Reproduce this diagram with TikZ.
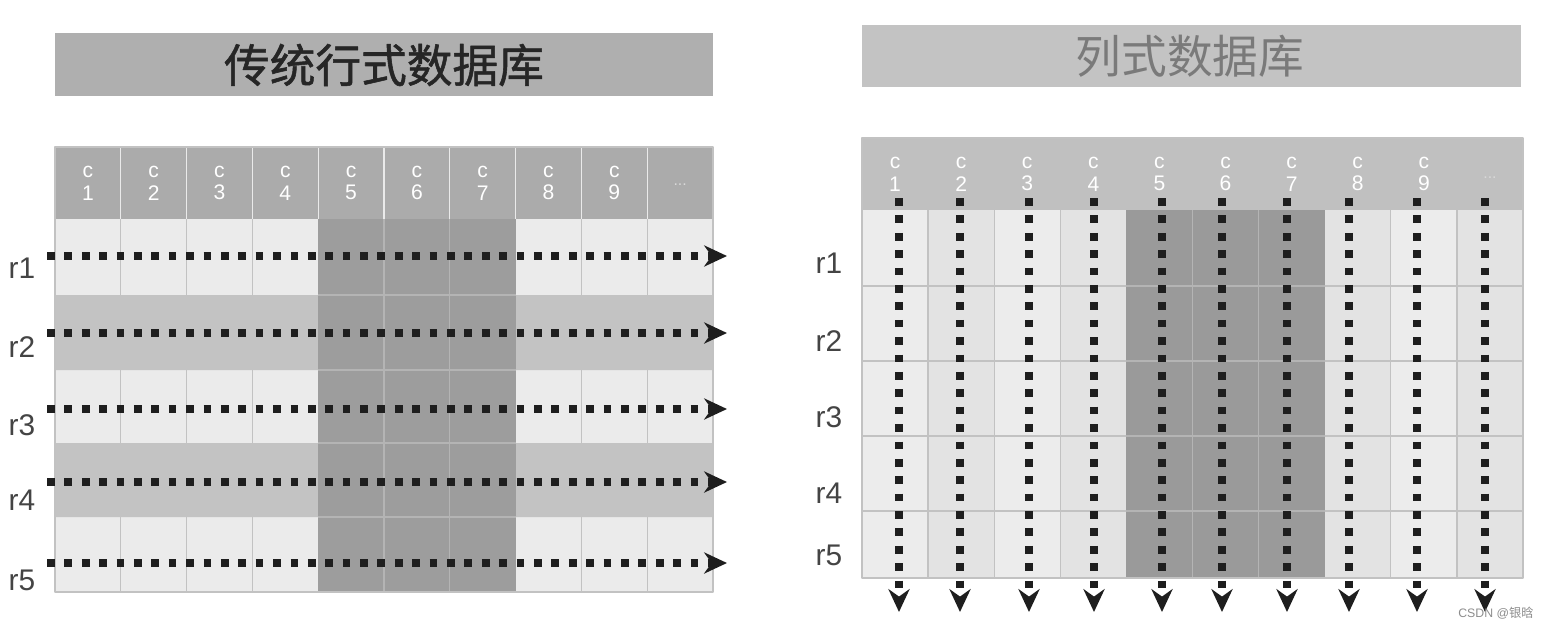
\documentclass[tikz,border=0pt]{standalone}
\usepackage{fontspec}
\setsansfont{Liberation Sans}
\newfontfamily\cjk{Noto Sans CJK SC}
\newfontfamily\cjkb[FakeBold=1.2]{Noto Sans CJK SC}
\usetikzlibrary{arrows.meta}

\definecolor{titleA}{HTML}{AFAFAF}
\definecolor{titleB}{HTML}{C3C3C3}
\definecolor{tA}{HTML}{262626}
\definecolor{tB}{HTML}{7A7A7A}
\definecolor{hdrA}{HTML}{ABABAB}
\definecolor{hdrB}{HTML}{C0C0C0}
\definecolor{cellL}{HTML}{EBEBEB}
\definecolor{bandL}{HTML}{C3C3C3}
\definecolor{darkL}{HTML}{9D9D9D}
\definecolor{cellR}{HTML}{ECECEC}
\definecolor{cellRb}{HTML}{E3E3E3}
\definecolor{darkR}{HTML}{9A9A9A}
\definecolor{lineG}{HTML}{C2C2C2}
\definecolor{lineD}{HTML}{B4B4B4}
\definecolor{dotc}{HTML}{1E1E1E}
\definecolor{labc}{HTML}{444444}

\tikzset{
  ttl/.style={font=\cjk\fontsize{26}{30}\selectfont, inner sep=0pt},
  hdr/.style={text=white, font=\sffamily\fontsize{12}{13}\selectfont, align=center, inner sep=0pt},
  hdrdots/.style={text=white!85!black, font=\sffamily\fontsize{9}{9}\selectfont, inner sep=0pt},
  rlab/.style={text=labc, font=\sffamily\fontsize{17}{20}\selectfont, inner sep=0pt},
  gridG/.style={draw=lineG, line width=0.7pt},
  gridD/.style={draw=lineD, line width=0.7pt},
  gridH/.style={draw=white!75!hdrA, line width=0.7pt},
  dotline/.style={draw=dotc, line width=4.4pt, dash pattern=on 4.4pt off 5.5pt},
  wmark/.style={text=black!45, font=\sffamily\fontsize{7}{8}\selectfont, inner sep=0pt}
}

\begin{document}
\begin{tikzpicture}[x=0.02cm, y=-0.02cm, line join=round, >={Stealth[length=13pt,width=12pt]}]
\useasboundingbox (0,0) rectangle (1545,629);
\def\wL{65.8}
\def\wR{66.1}

% titles
\fill[titleA] (55,33) rectangle (713,96);
\fill[titleB] (862,25) rectangle (1521,87);
\node[ttl, text=tA] (tl) at (384,65) {\cjkb 传统行式数据库};
\node[ttl, text=tB] (tr) at (1190,56) {列式数据库};

% left table
\fill[hdrA] (55,147) rectangle (713,219);
\fill[cellL] (55,219) rectangle (713,592);
\foreach \i in {1,...,9}
  \draw[gridG] (55+\i*\wL,219) -- (55+\i*\wL,592);
\fill[bandL] (55,295) rectangle (713,370) (55,443) rectangle (713,517);
\fill[darkL] (55+4*\wL,219) rectangle (55+7*\wL,592);
\draw[gridD] (55+5*\wL,219) -- (55+5*\wL,592) (55+6*\wL,219) -- (55+6*\wL,592);
\foreach \y in {295,370,443,517}
  \draw[gridD] (55+4*\wL,\y) -- (55+7*\wL,\y);
\foreach \i in {1,...,9}
  \draw[gridH] (55+\i*\wL,147) -- (55+\i*\wL,219);
\draw[gridG] (55,147) rectangle (713,592);
\foreach \i in {1,...,9}
  \node[hdr] (cl\i) at (55+\i*\wL-\wL/2,183) {c\\\i};
\node[hdrdots] (cl10) at (55+9.5*\wL,185) {...};

% left rows
\foreach \r/\y/\ly in {1/256/268,2/333/347,3/409/425,4/482/500,5/563/580}{
  \path (47,\y) coordinate (ls\r) (727,\y) coordinate (le\r);
  \draw[dotline,->] (ls\r) -- (le\r);
  \node[rlab] (lr\r) at (22,\ly) {r\r};
}

% right table
\fill[hdrB] (862,138) rectangle (1523,210);
\foreach \i/\c in {1/cellR,2/cellRb,3/cellR,4/cellRb,8/cellRb,9/cellR,10/cellRb}
  \fill[\c] (862+\i*\wR-\wR,210) rectangle ++(\wR,368);
\foreach \y in {286,361,436,511}
  \draw[gridG] (862,\y) -- (1523,\y);
\foreach \i in {1,...,9}
  \draw[gridG] (862+\i*\wR,210) -- (862+\i*\wR,578);
\fill[darkR] (862+4*\wR,210) rectangle (862+7*\wR,578);
\draw[gridD] (862+5*\wR,210) -- (862+5*\wR,578) (862+6*\wR,210) -- (862+6*\wR,578);
\foreach \y in {286,361,436,511}
  \draw[gridD] (862+4*\wR,\y) -- (862+7*\wR,\y);
\draw[gridG] (862,138) rectangle (1523,578);
\foreach \i in {1,...,9}
  \node[hdr] (cr\i) at (862+\i*\wR-\wR/2,174) {c\\\i};
\node[hdrdots] (cr10) at (862+9.5*\wR,178) {...};

% right rows and columns
\foreach \r/\y in {1/263,2/341,3/417,4/493,5/555}
  \node[rlab] (rr\r) at (829,\y) {r\r};
\foreach \i/\x in {1/899,2/960,3/1029,4/1094,5/1162,6/1222,7/1287,8/1349,9/1417,10/1485}{
  \path (\x,198) coordinate (cs\i) (\x,612) coordinate (ce\i);
  \draw[dotline,->] (cs\i) -- (ce\i);
}

\node[wmark] (wm) at (1496,613) {CSDN @{\cjk 银晗}};
\end{tikzpicture}
\end{document}
